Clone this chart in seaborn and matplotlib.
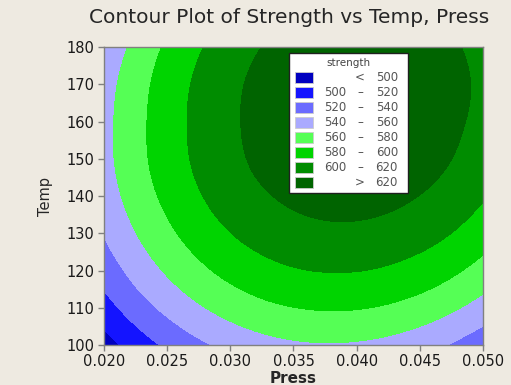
import numpy as np
import pandas as pd
import seaborn as sns
import matplotlib
matplotlib.use("Agg")
import matplotlib.pyplot as plt
from matplotlib.patches import Rectangle
from matplotlib.tri import Triangulation, UniformTriRefiner

# 数据：强度网格（行：Temp，列：Press）
press = [0.020, 0.0225, 0.025, 0.0275, 0.030, 0.0325, 0.035,
         0.0375, 0.040, 0.0425, 0.045, 0.0475, 0.050]
temp = [100, 110, 120, 130, 140, 150, 160, 170, 180]
strength = [
    [490.9, 508.5, 523.5, 535.9, 545.5, 552.5, 556.9, 558.5, 557.5, 553.9, 547.5, 538.6, 526.9],
    [511.7, 529.7, 545.0, 557.7, 567.7, 575.1, 579.7, 581.7, 581.1, 577.8, 571.8, 563.1, 551.8],
    [528.4, 546.7, 562.4, 575.4, 585.8, 593.4, 598.5, 600.8, 600.5, 597.5, 591.9, 583.6, 572.6],
    [540.9, 559.6, 575.6, 589.0, 599.7, 607.7, 613.1, 615.8, 615.8, 613.1, 607.8, 599.9, 589.2],
    [549.3, 568.4, 584.7, 598.4, 609.5, 617.8, 623.5, 626.6, 627.0, 624.7, 619.7, 612.1, 601.8],
    [553.6, 573.0, 589.7, 603.8, 615.2, 623.9, 629.9, 633.3, 634.0, 632.0, 627.4, 620.1, 610.2],
    [553.8, 573.5, 590.6, 605.0, 616.7, 625.8, 632.1, 635.9, 636.9, 635.3, 631.0, 624.1, 614.4],
    [551.4, 571.4, 588.8, 603.6, 615.6, 625.0, 631.7, 635.8, 637.2, 635.9, 632.0, 625.4, 616.1],
    [544.8, 565.2, 583.0, 598.0, 610.4, 620.2, 627.2, 631.6, 633.4, 632.4, 628.8, 622.6, 613.6],
]
breaks = [500, 520, 540, 560, 580, 600, 620]
band_colors = ['#0000C0', '#1414FF', '#6B6BFF', '#AAAAFF',
               '#55FF55', '#00D400', '#008C00', '#006400']
xticks = [0.020, 0.025, 0.030, 0.035, 0.040, 0.045, 0.050]
yticks = [100, 110, 120, 130, 140, 150, 160, 170, 180]

df = pd.DataFrame(strength, index=temp, columns=press)

sns.set_style("ticks")
plt.rcParams['font.family'] = ['DejaVu Sans']
bg = '#EEEAE1'

fig = plt.figure(figsize=(5.11, 3.85), dpi=100, facecolor=bg)
ax = fig.add_axes([0.2035, 0.1039, 0.7417, 0.774])

# 网格三角化（归一化坐标），让 matplotlib 平滑等值线
P, T = np.meshgrid(df.columns.values, df.index.values)
nr, nc = P.shape
px0, px1 = P.min(), P.max()
ty0, ty1 = T.min(), T.max()
tris = []
for i in range(nr - 1):
    for j in range(nc - 1):
        k = i * nc + j
        tris.append([k, k + 1, k + nc + 1])
        tris.append([k, k + nc + 1, k + nc])
tri = Triangulation(((P - px0) / (px1 - px0)).ravel(),
                    ((T - ty0) / (ty1 - ty0)).ravel(), tris)
tri_f, z_f = UniformTriRefiner(tri).refine_field(df.values.ravel(), subdiv=4)
tri_d = Triangulation(px0 + tri_f.x * (px1 - px0), ty0 + tri_f.y * (ty1 - ty0),
                      tri_f.triangles)

levels = [z_f.min() - 1] + breaks + [z_f.max() + 1]
ax.tricontourf(tri_d, z_f, levels=levels, colors=band_colors)

ax.set_xlim(0.020, 0.050)
ax.set_ylim(100, 180)
ax.set_xticks(xticks)
ax.set_xticklabels(['%.3f' % t for t in xticks])
ax.set_yticks(yticks)
for s in ax.spines.values():
    s.set_color('#808080')
    s.set_linewidth(1)
ax.tick_params(direction='out', length=4.3, width=1, color='#808080',
               labelsize=10.5, labelcolor='#1a1a1a', pad=2.5)

ax.set_xlabel('Press', fontsize=11, fontweight='bold', labelpad=1)
ax.set_ylabel('Temp', fontsize=10.5, labelpad=10)
fig.text(0.566, 0.955, 'Contour Plot of Strength vs Temp, Press',
         ha='center', va='center', fontsize=14.5)

# 图例（手动绘制）
ax.add_patch(Rectangle((0.488, 0.510), 0.314, 0.470, transform=ax.transAxes,
                       facecolor='white', edgecolor='#202020', lw=1, zorder=5))
ax.text(0.645, 0.946, 'strength', transform=ax.transAxes, ha='center',
        va='center', fontsize=7.5, color='#444444', zorder=6)
labels = [('', '<', '500')]
for lo, hi in zip(breaks[:-1], breaks[1:]):
    labels.append((str(lo), '–', str(hi)))
labels.append(('', '>', '620'))
for i, (c, (a, d, b)) in enumerate(zip(band_colors, labels)):
    yc = (345 - (77.3 + 15 * i)) / 298
    ax.add_patch(Rectangle((0.504, yc - 0.0185), 0.0475, 0.037,
                           transform=ax.transAxes, facecolor=c,
                           edgecolor='#cccccc', lw=0.6, zorder=6))
    kw = dict(transform=ax.transAxes, va='center', fontsize=8.5,
              color='#555555', zorder=6)
    ax.text((346 - 104) / 379, yc, a, ha='right', **kw)
    ax.text((360 - 104) / 379, yc, d, ha='center', **kw)
    ax.text((398 - 104) / 379, yc, b, ha='right', **kw)

fig.savefig('out.png', dpi=100, facecolor=bg)
